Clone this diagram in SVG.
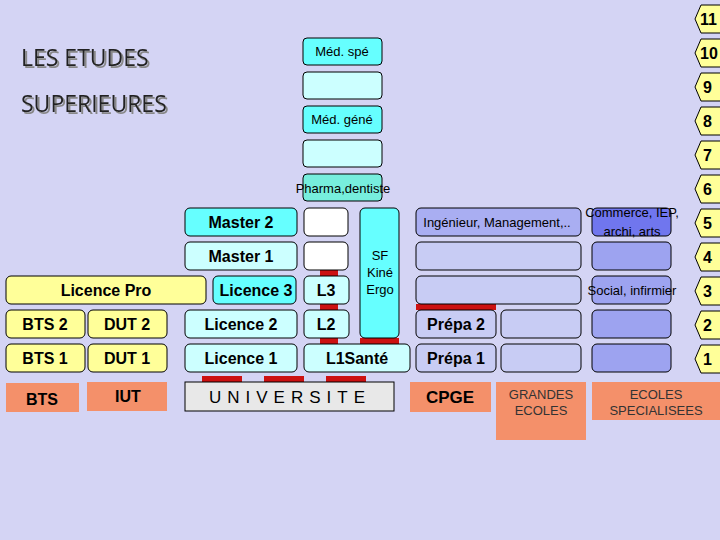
<svg xmlns="http://www.w3.org/2000/svg" width="720" height="540" viewBox="0 0 720 540">
<defs><filter id="sh" x="-10%" y="-20%" width="130%" height="160%"><feDropShadow dx="2" dy="2" stdDeviation="0.6" flood-color="#888"/></filter></defs>
<style>
.b{stroke:#000;stroke-width:1}
.t{font-family:"Liberation Sans",Arial,sans-serif;text-anchor:middle}
.sm{font-size:13px}
.y{fill:#ffff99}.c{fill:#66ffff}.lc{fill:#ccffff}.w{fill:#fff}.o{fill:#f4906a}
.pl{fill:#c8ccf4}.pd{fill:#a9aef2}.bd{fill:#7076ee}.bm{fill:#9da3f0}
.r{fill:#cc1111}
</style>
<rect width="720" height="540" fill="#d4d4f4"/>
<g font-family="'Open Sans',sans-serif" font-size="23" fill="#222" filter="url(#sh)">
<text x="21" y="66">LES ETUDES</text>
<text x="21" y="112">SUPERIEURES</text>
</g>
<g id="connectors">
<rect class="r" x="320" y="270" width="18" height="6"/>
<rect class="r" x="320" y="304" width="18" height="6"/>
<rect class="r" x="320" y="338" width="18" height="6"/>
<rect class="r" x="360" y="338" width="39" height="6"/>
<rect class="r" x="202" y="376" width="40" height="6"/>
<rect class="r" x="264" y="376" width="40" height="6"/>
<rect class="r" x="326" y="376" width="40" height="6"/>
<rect class="r" x="416" y="304" width="80" height="6"/>
</g>
<g id="med">
<g id="medspe"><rect class="b c" x="303" y="38" width="79" height="27" rx="4"/><text class="t sm" x="342" y="56">Méd. spé</text></g>
<g id="m9"><rect class="b lc" x="303" y="72" width="79" height="27" rx="4"/></g>
<g id="medgene"><rect class="b c" x="303" y="106" width="79" height="27" rx="4"/><text class="t sm" x="342" y="124">Méd. géné</text></g>
<g id="m7"><rect class="b lc" x="303" y="140" width="79" height="27" rx="4"/></g>
<g id="pharma"><rect class="b" fill="#77eedd" x="303" y="174" width="79" height="27" rx="4"/><text class="t sm" x="343" y="193">Pharma,dentiste</text></g>
</g>
<g id="left" font-size="16" font-weight="bold">
<g><rect class="b y" x="6" y="276" width="200" height="28" rx="5"/><text class="t" x="106" y="296">Licence Pro</text></g>
<g><rect class="b y" x="6" y="310" width="79" height="28" rx="5"/><text class="t" x="45" y="330">BTS 2</text></g>
<g><rect class="b y" x="88" y="310" width="79" height="28" rx="5"/><text class="t" x="127" y="330">DUT 2</text></g>
<g><rect class="b y" x="6" y="344" width="79" height="28" rx="5"/><text class="t" x="45" y="364">BTS 1</text></g>
<g><rect class="b y" x="88" y="344" width="79" height="28" rx="5"/><text class="t" x="127" y="364">DUT 1</text></g>
<g><rect class="o" x="6" y="383" width="73" height="29"/><text class="t" x="42" y="405">BTS</text></g>
<g><rect class="o" x="87" y="382" width="80" height="29"/><text class="t" x="128" y="402">IUT</text></g>
</g>
<g id="univ" font-size="16" font-weight="bold">
<g><rect class="b c" x="185" y="208" width="112" height="28" rx="5"/><text class="t" x="241" y="228">Master 2</text></g>
<g><rect class="b lc" x="185" y="242" width="112" height="28" rx="5"/><text class="t" x="241" y="262">Master 1</text></g>
<g><rect class="b c" x="213" y="276" width="83" height="28" rx="5"/><text class="t" x="256" y="296">Licence 3</text></g>
<g><rect class="b lc" x="185" y="310" width="112" height="28" rx="5"/><text class="t" x="241" y="330">Licence 2</text></g>
<g><rect class="b lc" x="185" y="344" width="112" height="28" rx="5"/><text class="t" x="241" y="364">Licence 1</text></g>
<g><rect class="b w" x="304" y="208" width="44" height="28" rx="5"/></g>
<g><rect class="b w" x="304" y="242" width="44" height="28" rx="5"/></g>
<g><rect class="b lc" x="304" y="276" width="45" height="28" rx="5"/><text class="t" x="326" y="296">L3</text></g>
<g><rect class="b lc" x="304" y="310" width="45" height="28" rx="5"/><text class="t" x="326" y="330">L2</text></g>
<g><rect class="b lc" x="304" y="344" width="106" height="28" rx="5"/><text class="t" x="357" y="364">L1Santé</text></g>
<g font-weight="normal"><rect class="b c" x="360" y="208" width="39" height="130" rx="5"/><text class="t" font-size="13" x="380" y="260">SF</text><text class="t" font-size="13" x="380" y="277">Kiné</text><text class="t" font-size="13" x="380" y="294">Ergo</text></g>
<g font-weight="normal"><rect class="b" fill="#e8e8e8" x="185" y="382" width="209" height="29"/><text class="t" font-size="17" x="290" y="403" letter-spacing="6">UNIVERSITE</text></g>
</g>
<g id="ecoles" font-size="16">
<g><rect class="b pd" x="416" y="208" width="165" height="28" rx="5"/><text class="t sm" x="497" y="227">Ingénieur, Management,..</text></g>
<g><rect class="b pl" x="416" y="242" width="165" height="28" rx="5"/></g>
<g><rect class="b pl" x="416" y="276" width="165" height="28" rx="5"/></g>
<g><rect class="b pl" x="416" y="310" width="80" height="28" rx="5"/><text class="t" font-weight="bold" x="456" y="330">Prépa 2</text></g>
<g><rect class="b pl" x="501" y="310" width="80" height="28" rx="5"/></g>
<g><rect class="b pl" x="416" y="344" width="80" height="28" rx="5"/><text class="t" font-weight="bold" x="456" y="364">Prépa 1</text></g>
<g><rect class="b pl" x="501" y="344" width="80" height="28" rx="5"/></g>
<g><rect class="b bd" x="592" y="208" width="79" height="28" rx="5"/><text class="t sm" x="632" y="217">Commerce, IEP,</text><text class="t sm" x="632" y="236">archi, arts</text></g>
<g><rect class="b bm" x="592" y="242" width="79" height="28" rx="5"/></g>
<g><rect class="b bm" x="592" y="276" width="79" height="28" rx="5"/><text class="t sm" x="632" y="295">Social, infirmier</text></g>
<g><rect class="b bm" x="592" y="310" width="79" height="28" rx="5"/></g>
<g><rect class="b bm" x="592" y="344" width="79" height="28" rx="5"/></g>
<g><rect class="o" x="410" y="382" width="81" height="30"/><text class="t" font-size="17" font-weight="bold" x="450" y="403">CPGE</text></g>
<g><rect class="o" x="496" y="382" width="90" height="58"/><text class="t sm" fill="#333" x="541" y="399">GRANDES</text><text class="t sm" fill="#333" x="541" y="415">ECOLES</text></g>
<g><rect class="o" x="592" y="382" width="128" height="38"/><text class="t sm" fill="#333" x="656" y="399">ECOLES</text><text class="t sm" fill="#333" x="656" y="415">SPECIALISEES</text></g>
</g>
<g id="levels" font-family="'Liberation Sans',Arial,sans-serif" font-size="16" font-weight="bold">
<defs><polygon id="hx" class="y" stroke="#000" points="0,14 6,0 30,0 30,28 6,28"/></defs>
<g><use href="#hx" x="695" y="5"/><text x="700" y="25">11</text></g>
<g><use href="#hx" x="695" y="39"/><text x="700" y="59">10</text></g>
<g><use href="#hx" x="695" y="73"/><text x="703" y="93">9</text></g>
<g><use href="#hx" x="695" y="107"/><text x="703" y="127">8</text></g>
<g><use href="#hx" x="695" y="141"/><text x="703" y="161">7</text></g>
<g><use href="#hx" x="695" y="175"/><text x="703" y="195">6</text></g>
<g><use href="#hx" x="695" y="209"/><text x="703" y="229">5</text></g>
<g><use href="#hx" x="695" y="243"/><text x="703" y="263">4</text></g>
<g><use href="#hx" x="695" y="277"/><text x="703" y="297">3</text></g>
<g><use href="#hx" x="695" y="311"/><text x="703" y="331">2</text></g>
<g><use href="#hx" x="695" y="345"/><text x="703" y="365">1</text></g>
</g>
</svg>
